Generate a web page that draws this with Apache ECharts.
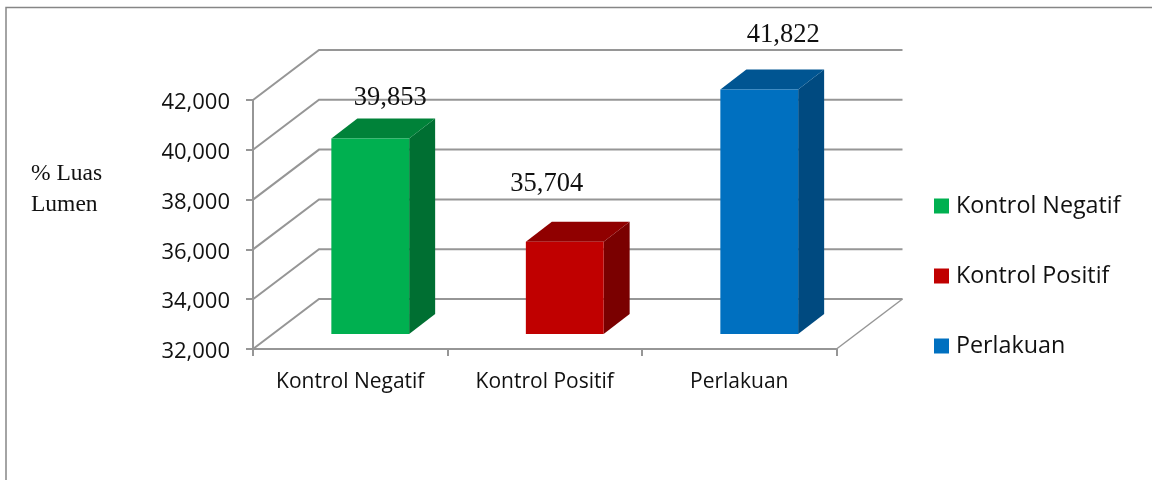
<!DOCTYPE html>
<html>
<head>
<meta charset="utf-8">
<style>html,body{margin:0;padding:0;background:#fff}#c{width:1152px;height:480px}</style>
<script src="https://cdn.jsdelivr.net/npm/echarts@6/dist/echarts.min.js"></script>
</head>
<body>
<div id="c"></div>
<script>
const categories = ['Kontrol Negatif', 'Kontrol Positif', 'Perlakuan'];
const values = [39853, 35704, 41822];
const ticks = [32000, 34000, 36000, 38000, 40000, 42000];
const yTitle = '% Luas\nLumen';

const GRAY = '#969696';
const SANS = '"Open Sans", sans-serif';
const SERIF = '"Liberation Serif", serif';
const WALL = [66, -50];              // full depth of the 3D box
const FRONT = [20, -15];             // gap from front edge to the bar face
const DEPTH = [26, -20];             // depth of each bar
const palette = [
  { front: '#00B050', side: '#006F32', top: '#008239' },
  { front: '#C00000', side: '#7A0000', top: '#900000' },
  { front: '#0070C0', side: '#004A80', top: '#005592' }
];
const labelShift = [[20, -40], [-18, -58], [24, -54]];

const wallSeries = {
  type: 'custom', name: 'walls', silent: true, clip: false, z: 1,
  data: ticks.map(t => [0, t]),
  renderItem(params, api) {
    const cs = params.coordSys;
    const y = api.coord([0, api.value(1)])[1];
    const xl = cs.x, xr = cs.x + cs.width;
    const children = [{
      type: 'polyline',
      shape: { points: [[xl, y], [xl + WALL[0], y + WALL[1]], [xr + WALL[0], y + WALL[1]]] },
      style: { stroke: GRAY, lineWidth: 2, fill: null }
    }];
    if (api.value(1) === ticks[0]) {
      children.push({
        type: 'line',
        shape: { x1: xr, y1: y, x2: xr + WALL[0], y2: y + WALL[1] },
        style: { stroke: GRAY, lineWidth: 1.5 }
      });
    }
    return { type: 'group', children };
  }
};

const barSeries = categories.map((name, i) => ({
  type: 'custom', name, clip: false, z: 3,
  itemStyle: { color: palette[i].front },
  data: [[i, values[i]]],
  renderItem(params, api) {
    const top = api.coord([api.value(0), api.value(1)]);
    const base = api.coord([api.value(0), ticks[0]]);
    const w = api.size([1, 0])[0] * 0.4;
    const x0 = top[0] - w / 2 + FRONT[0], x1 = x0 + w;
    const yt = top[1] + FRONT[1], yb = base[1] + FRONT[1];
    const c = palette[i];
    return {
      type: 'group',
      children: [
        { type: 'polygon', shape: { points: [[x1, yt], [x1 + DEPTH[0], yt + DEPTH[1]], [x1 + DEPTH[0], yb + DEPTH[1]], [x1, yb]] }, style: { fill: c.side } },
        { type: 'polygon', shape: { points: [[x0, yt], [x0 + DEPTH[0], yt + DEPTH[1]], [x1 + DEPTH[0], yt + DEPTH[1]], [x1, yt]] }, style: { fill: c.top } },
        { type: 'rect', shape: { x: x0, y: yt, width: w, height: yb - yt }, style: { fill: c.front } },
        { type: 'text', z2: 10, style: {
            text: values[i].toLocaleString('en-US'),
            x: (x0 + x1) / 2 + labelShift[i][0], y: yt + labelShift[i][1],
            align: 'center', verticalAlign: 'middle',
            fill: '#111', font: '26.5px ' + SERIF } }
      ]
    };
  }
}));

const chart = echarts.init(document.getElementById('c'), null, { renderer: 'canvas' });
chart.setOption({
  animation: false,
  backgroundColor: '#fff',
  grid: { left: 253, top: 100, width: 583.5, height: 249, containLabel: false },
  xAxis: {
    type: 'category', data: categories,
    axisLine: { show: true, lineStyle: { color: GRAY, width: 2 } },
    axisTick: { show: true, length: 7, alignWithLabel: false, lineStyle: { color: GRAY, width: 2 } },
    axisLabel: { color: '#111', fontFamily: SANS, fontSize: 21, margin: 23, interval: 0 },
    splitLine: { show: false }
  },
  yAxis: {
    type: 'value', min: ticks[0], max: ticks[ticks.length - 1], interval: 2000,
    axisLine: { show: true, lineStyle: { color: GRAY, width: 2 } },
    axisTick: { show: true, length: 7, lineStyle: { color: GRAY, width: 2 } },
    axisLabel: { color: '#111', fontFamily: SANS, fontSize: 22, margin: 23, verticalAlign: 'top', lineHeight: 6,
      formatter: v => v.toLocaleString('en-US') },
    splitLine: { show: false }
  },
  legend: {
    data: categories, orient: 'vertical', left: 934, top: 194, padding: 0,
    itemWidth: 15, itemHeight: 15, itemGap: 46, icon: 'rect', selectedMode: false,
    textStyle: { color: '#111', fontFamily: SANS, fontSize: 23.3, lineHeight: 24, padding: [0, 0, 0, 2] }
  },
  graphic: [
    { type: 'polyline', silent: true, shape: { points: [[6, 480], [6, 7.5], [1152, 7.5]] },
      style: { stroke: '#868686', lineWidth: 1.5, fill: null } },
    { type: 'text', silent: true, left: 31, top: 158,
      style: { text: yTitle, fill: '#111', font: '23.5px ' + SERIF, lineHeight: 31 } }
  ],
  series: [wallSeries, ...barSeries]
});
</script>
</body>
</html>
